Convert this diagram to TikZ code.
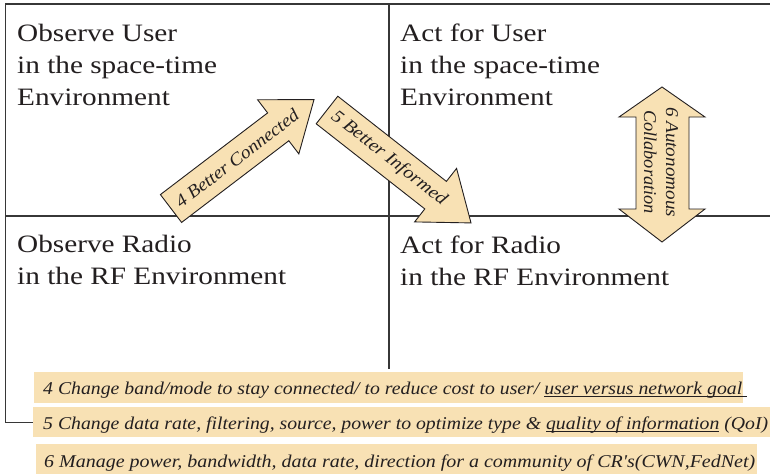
\documentclass[tikz,border=0pt]{standalone}
\usepackage{fontspec}
\setmainfont{Liberation Serif}[FakeStretch=1.17]
\newfontfamily\notefont{Liberation Serif}[UprightFont={* Italic}]
\usetikzlibrary{calc}

\definecolor{wheat}{RGB}{248,225,180}
\definecolor{ink}{RGB}{35,31,32}
\definecolor{rulegray}{RGB}{55,55,55}

% set a piece of text to a given width, keeping its height
\newcommand{\fitw}[2]{\resizebox{#1}{\height}{#2}}
% underline drawn as a rule a little below the baseline
\newcommand{\undl}[1]{\setbox0=\hbox{#1}\rlap{\rule[-3pt]{\wd0}{0.9pt}}\box0\relax}

\begin{document}
\begin{tikzpicture}[x=1pt,y=-1pt,
  frame/.style={draw=rulegray, line width=1.3pt},
  blockarrow/.style={draw=ink, line width=0.9pt, fill=wheat, line join=miter},
  notebox/.style={fill=wheat, inner sep=0pt, anchor=north west},
  quad/.style={anchor=base west, inner sep=0pt, align=left,
    font=\fontsize{25}{32}\selectfont, text=ink},
  arrowtext/.style={inner sep=0pt, align=center,
    font=\fontsize{18}{22}\selectfont\notefont, text=ink},
  notetext/.style={anchor=base west, inner sep=0pt,
    font=\fontsize{18}{20}\selectfont\notefont, text=ink}]

\useasboundingbox[fill=white] (0,0) rectangle (770,475);

% note bands along the bottom
\node[notebox, minimum width=709pt, minimum height=31pt] (note4) at (34,372) {};
\node[notebox, minimum width=740pt, minimum height=30pt] (note5) at (33,407) {};
\node[notebox, minimum width=721pt, minimum height=30pt] (note6) at (36,444) {};

\node[notetext] (txt4) at (43,394) {\fitw{704pt}{4 Change band/mode to stay connected/ to reduce cost to user/ \undl{user versus network goal\ }}};
\node[notetext] (txt5) at (43,429) {\fitw{725pt}{5 Change data rate, filtering, source, power to optimize type \& \undl{quality of information} (QoI)}};
\node[notetext] (txt6) at (44,467) {\fitw{711pt}{6 Manage power, bandwidth, data rate, direction for a community of CR's(CWN,FedNet)}};

% quadrant frame
\coordinate (tl) at (5.5,4);
\coordinate (tr) at (770,4);
\coordinate (ml) at (5.5,216);
\coordinate (mr) at (770,216);
\coordinate (vt) at (389,4);
\coordinate (vb) at (389,369);
\draw[frame] (tr) -- (tl) |- (note5.west);
\draw[frame] (ml) -- (mr);
\draw[frame] (vt) -- (vb);

% quadrant labels (anchored on the baseline of their last line)
\node[quad] (q1) at (17,105) {Observe User\\in the space-time\\Environment};
\node[quad] (q2) at (400,105) {Act for User\\in the space-time\\Environment};
\node[quad] (q3) at (17,284) {Observe Radio\\in the RF Environment};
\node[quad] (q4) at (400,285) {Act for Radio\\in the RF Environment};

% arrow 4: observe user -> act for user
\begin{scope}[shift={(171,208.5)}, rotate=37.3]
  \draw[blockarrow] (0,-17.5) -- (134.8,-17.5) -- (134.8,-34) -- (179.8,0)
    -- (134.8,34) -- (134.8,17.5) -- (0,17.5) -- cycle;
  \node[arrowtext, rotate=37.3] (a4) at (83,0) {\fitw{150pt}{4 Better Connected}};
\end{scope}

% arrow 5: top middle -> act for radio
\begin{scope}[shift={(327,110)}, rotate=-38.1]
  \draw[blockarrow] (0,-17.5) -- (138,-17.5) -- (138,-34) -- (183,0)
    -- (138,34) -- (138,17.5) -- (0,17.5) -- cycle;
  \node[arrowtext, rotate=-38.1] (a5) at (78.6,0) {\fitw{142pt}{5 Better Informed}};
\end{scope}

% arrow 6: two-way collaboration
\draw[blockarrow] (662,87) -- (705,117) -- (689,117) -- (689,209) -- (705,209)
  -- (662,242) -- (619,209) -- (636,209) -- (636,117) -- (619,117) -- cycle;
\node[arrowtext, rotate=-90] (a6) at (661,162)
  {\fitw{110pt}{6 Autonomous}\\\fitw{104pt}{Collaboration}};

\end{tikzpicture}
\end{document}
